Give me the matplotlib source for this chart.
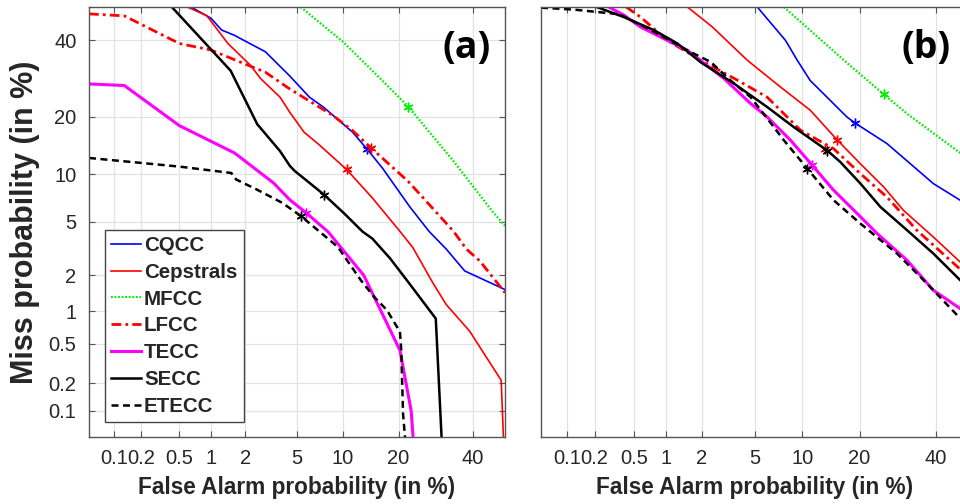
import math
import numpy as np
import matplotlib
matplotlib.use('Agg')
import matplotlib.pyplot as plt

########
# DET curves, false alarm / miss rates in percent
names = ['CQCC', 'Cepstrals', 'MFCC', 'LFCC', 'TECC', 'SECC', 'ETECC']

# panel (a)
far_a_cqcc = [0.65, 1.0, 1.25, 1.6, 2.9, 4.4, 6.1, 7.6, 11.4, 13.8, 16.6, 22.5, 27.4, 32.1, 37.5, 50.0]
miss_a_cqcc = [50.0, 46.6, 43.0, 41.5, 36.6, 30.0, 24.5, 22.1, 16.9, 13.8, 10.9, 6.35, 4.3, 3.2, 2.17, 1.53]
far_a_cep = [0.6, 0.92, 1.42, 2.2, 2.66, 3.76, 4.44, 5.6, 7.0, 10.5, 14.7, 20.3, 23.3, 28.4, 32.1, 39.0, 48.8, 49.6]
miss_a_cep = [50.0, 47.3, 39.0, 32.8, 29.2, 24.5, 21.0, 16.9, 14.7, 10.7, 7.2, 4.3, 3.28, 1.74, 1.14, 0.655, 0.214, 0.04]
far_a_mfcc = [5.3, 10.0, 15.9, 22.2, 34.2, 46.0, 50.0]
miss_a_mfcc = [50.0, 39.5, 29.6, 22.3, 11.9, 5.9, 4.7]
far_a_lfcc = [0.05, 0.13, 0.5, 1.0, 2.1, 2.9, 4.4, 8.7, 11.4, 14.4, 22.2, 34.2, 38.0, 42.1, 50.0]
miss_a_lfcc = [47.9, 47.3, 39.0, 37.1, 32.8, 30.9, 26.6, 20.3, 17.2, 14.1, 9.1, 4.3, 3.2, 2.6, 1.44]
far_a_tecc = [0.05, 0.13, 0.5, 1.62, 3.36, 4.44, 5.8, 8.1, 13.2, 20.3, 22.9, 23.5]
miss_a_tecc = [27.8, 27.4, 18.2, 13.2, 8.9, 7.0, 5.75, 4.26, 2.0, 0.43, 0.1, 0.04]
far_a_secc = [0.42, 1.5, 2.5, 3.76, 4.44, 4.8, 7.6, 10.2, 13.0, 14.7, 18.2, 22.5, 29.2, 30.9]
miss_a_secc = [50.0, 31.3, 18.5, 13.5, 11.2, 10.5, 7.56, 5.69, 4.28, 3.82, 2.71, 1.71, 0.856, 0.04]
far_a_etecc = [0.05, 0.18, 0.5, 1.52, 1.67, 2.5, 3.9, 5.3, 9.3, 12.7, 15.0, 17.5, 20.3, 20.6, 21.0, 21.6]
miss_a_etecc = [12.4, 11.7, 11.1, 10.2, 9.35, 8.1, 6.7, 5.5, 3.32, 1.83, 1.33, 1.02, 0.646, 0.43, 0.093, 0.04]
mk_far_a = [13.8, 10.5, 22.2, 14.4, 5.8, 7.6, 5.3]
mk_miss_a = [13.8, 10.7, 22.3, 14.1, 5.75, 7.56, 5.5]

# panel (b)
far_b_cqcc = [5.18, 7.92, 9.33, 11.1, 17.4, 19.1, 26.4, 39.2, 47.3]
miss_b_cqcc = [50.0, 39.9, 34.2, 28.7, 20.0, 18.7, 14.8, 8.83, 6.96]
far_b_cep = [1.52, 2.43, 4.41, 7.37, 11.1, 15.5, 20.2, 25.6, 30.7, 39.2, 47.3]
miss_b_cep = [50.0, 43.9, 34.2, 27.0, 21.5, 15.5, 11.5, 8.42, 5.99, 3.92, 2.55]
far_b_mfcc = [7.73, 16.8, 25.6, 31.7, 47.3]
miss_b_mfcc = [50.0, 34.2, 25.2, 20.7, 13.2]
far_b_lfcc = [0.42, 0.58, 1.02, 1.96, 3.96, 6.04, 9.75, 14.9, 20.2, 26.4, 34.4, 47.3]
miss_b_lfcc = [50.0, 46.9, 39.9, 34.2, 28.3, 24.5, 17.3, 13.9, 10.1, 7.3, 4.38, 2.24]
far_b_tecc = [0.28, 0.4, 0.58, 1.02, 1.52, 2.98, 4.66, 6.04, 8.5, 11.4, 14.9, 19.5, 24.0, 31.7, 39.2, 47.3]
miss_b_tecc = [50.0, 47.5, 43.9, 39.9, 37.0, 29.2, 23.0, 20.0, 15.4, 11.3, 8.04, 5.7, 4.15, 2.63, 1.51, 1.05]
far_b_secc = [0.21, 0.4, 0.78, 1.25, 1.96, 3.54, 6.04, 8.9, 13.8, 16.1, 20.2, 24.8, 31.7, 39.2, 47.3]
miss_b_secc = [50.0, 46.9, 42.9, 39.0, 33.6, 27.9, 22.2, 17.9, 13.6, 11.8, 8.83, 6.3, 4.38, 2.96, 1.83]
far_b_etecc = [0.05, 0.12, 0.21, 0.36, 0.78, 1.52, 2.35, 3.34, 4.66, 6.04, 7.73, 10.7, 14.9, 20.2, 29.0, 37.3, 47.3]
miss_b_etecc = [49.8, 49.2, 48.5, 47.8, 42.4, 37.0, 33.7, 28.7, 24.5, 19.7, 15.4, 10.8, 6.96, 4.87, 2.96, 1.72, 0.86]
mk_far_b = [19.1, 15.5, 25.6, 13.4, 11.4, 13.8, 10.7]
mk_miss_b = [18.7, 15.5, 25.2, 13.9, 11.3, 13.6, 10.8]

tick_vals = [0.1, 0.2, 0.5, 1, 2, 5, 10, 20, 40]
tick_labels = ['0.1', '0.2', '0.5', '1', '2', '5', '10', '20', '40']

colors = ['#0000ff', '#ff0000', '#00ee00', '#ff0000', '#ff00ff', '#000000', '#000000']
styles = ['-', '-', (0, (0.8, 0.8)), (0, (3.5, 1.5, 1.0, 1.5)), '-', '-', (0, (2.8, 1.8))]
widths = [1.2, 1.2, 1.6, 2.0, 2.2, 1.8, 1.8]

########
# normal deviate scale (Acklam's inverse normal approximation)
_a = [-3.969683028665376e+01, 2.209460984245205e+02, -2.759285104469687e+02,
      1.383577518672690e+02, -3.066479806614716e+01, 2.506628277459239e+00]
_b = [-5.447609879822406e+01, 1.615858368580409e+02, -1.556989798598866e+02,
      6.680131188771972e+01, -1.328068155288572e+01]
_c = [-7.784894002430293e-03, -3.223964580411365e-01, -2.400758277161838e+00,
      -2.549732539343734e+00, 4.374664141464968e+00, 2.938163982698783e+00]
_d = [7.784695709041462e-03, 3.224671290700398e-01, 2.445134137142996e+00,
      3.754408661907416e+00]


def _ppf(p):
    p = np.clip(np.asarray(p, dtype=float), 1e-12, 1 - 1e-12)
    out = np.empty_like(p)
    lo = p < 0.02425
    hi = p > 1 - 0.02425
    mid = ~(lo | hi)
    q = np.sqrt(-2 * np.log(p[lo]))
    out[lo] = ((((((_c[0]*q+_c[1])*q+_c[2])*q+_c[3])*q+_c[4])*q+_c[5]) /
               ((((_d[0]*q+_d[1])*q+_d[2])*q+_d[3])*q+1))
    q = np.sqrt(-2 * np.log(1 - p[hi]))
    out[hi] = -((((((_c[0]*q+_c[1])*q+_c[2])*q+_c[3])*q+_c[4])*q+_c[5]) /
                ((((_d[0]*q+_d[1])*q+_d[2])*q+_d[3])*q+1))
    q = p[mid] - 0.5
    r = q * q
    out[mid] = ((((((_a[0]*r+_a[1])*r+_a[2])*r+_a[3])*r+_a[4])*r+_a[5])*q /
                (((((_b[0]*r+_b[1])*r+_b[2])*r+_b[3])*r+_b[4])*r+1))
    return out


_erf = np.vectorize(math.erf)


def fwd(pct):
    return _ppf(np.asarray(pct, dtype=float) / 100.0)


def inv(z):
    return 50.0 * (1.0 + _erf(np.asarray(z, dtype=float) / math.sqrt(2)))


plt.rcParams['font.family'] = ['Liberation Sans', 'DejaVu Sans']
txt_col = '#262626'

fig = plt.figure(figsize=(9.6, 5.04), dpi=100)
ax_a = fig.add_axes([89/960, 67/504, 416/960, 430/504])
ax_b = fig.add_axes([541/960, 67/504, 428/960, 430/504])

panels = [
    (ax_a, [(far_a_cqcc, miss_a_cqcc), (far_a_cep, miss_a_cep), (far_a_mfcc, miss_a_mfcc),
            (far_a_lfcc, miss_a_lfcc), (far_a_tecc, miss_a_tecc), (far_a_secc, miss_a_secc),
            (far_a_etecc, miss_a_etecc)], mk_far_a, mk_miss_a, '(a)'),
    (ax_b, [(far_b_cqcc, miss_b_cqcc), (far_b_cep, miss_b_cep), (far_b_mfcc, miss_b_mfcc),
            (far_b_lfcc, miss_b_lfcc), (far_b_tecc, miss_b_tecc), (far_b_secc, miss_b_secc),
            (far_b_etecc, miss_b_etecc)], mk_far_b, mk_miss_b, '(b)'),
]

for ax, curves, mkx, mky, tag in panels:
    ax.set_xscale('function', functions=(fwd, inv))
    ax.set_yscale('function', functions=(fwd, inv))
    for i, (fa, ms) in enumerate(curves):
        ax.plot(fa, ms, color=colors[i], linestyle=styles[i], lw=widths[i], label=names[i])
        # operating point, drawn as an asterisk
        ax.plot(mkx[i], mky[i], marker=(6, 2, 0), ms=7, color=colors[i], mew=1.0, ls='none')
    ax.set_xlim(0.05, 50)
    ax.set_ylim(0.05, 50)
    ax.xaxis.set_major_locator(matplotlib.ticker.FixedLocator(tick_vals))
    ax.xaxis.set_major_formatter(matplotlib.ticker.FixedFormatter(tick_labels))
    ax.xaxis.set_minor_locator(matplotlib.ticker.NullLocator())
    ax.yaxis.set_major_locator(matplotlib.ticker.FixedLocator(tick_vals))
    ax.yaxis.set_major_formatter(matplotlib.ticker.FixedFormatter(tick_labels))
    ax.yaxis.set_minor_locator(matplotlib.ticker.NullLocator())
    ax.grid(True, axis='x', color='#e2e2e2', lw=0.9)
    ax.set_axisbelow(True)
    for s in ax.spines.values():
        s.set_color('#555555')
        s.set_linewidth(1.0)
    ax.tick_params(direction='in', length=4, width=0.8, color='#555555',
                   labelsize=14.5, labelcolor=txt_col, top=True, right=True, pad=9)
    ax.set_xlabel('False Alarm probability (in %)', fontsize=16.3, fontweight='bold', color=txt_col)
    ax.xaxis.set_label_coords(0.5, -0.09)
    ax.text(0.907 if ax is ax_a else 0.899, 0.905, tag, transform=ax.transAxes,
            ha='center', va='center', fontsize=27, fontweight='bold', family='Open Sans')

ax_a.grid(True, axis='y', color='#e2e2e2', lw=0.9)
ax_a.set_ylabel('Miss probability (in %)', fontsize=22, fontweight='bold', color=txt_col)
ax_a.yaxis.set_label_coords(-0.118, 0.5)
ax_b.tick_params(axis='y', left=False, right=False, labelleft=False)

leg = ax_a.legend(loc='lower left', bbox_to_anchor=(0.0385, 0.035), borderaxespad=0,
                  prop=dict(family='Liberation Sans', weight='bold', size=14.8),
                  handlelength=1.45, handletextpad=0.15, labelspacing=0.38, borderpad=0.3,
                  fancybox=False, framealpha=1, edgecolor='#444444')
leg.get_frame().set_linewidth(1.0)
for t in leg.get_texts():
    t.set_color(txt_col)

fig.savefig('out.png', dpi=100)
